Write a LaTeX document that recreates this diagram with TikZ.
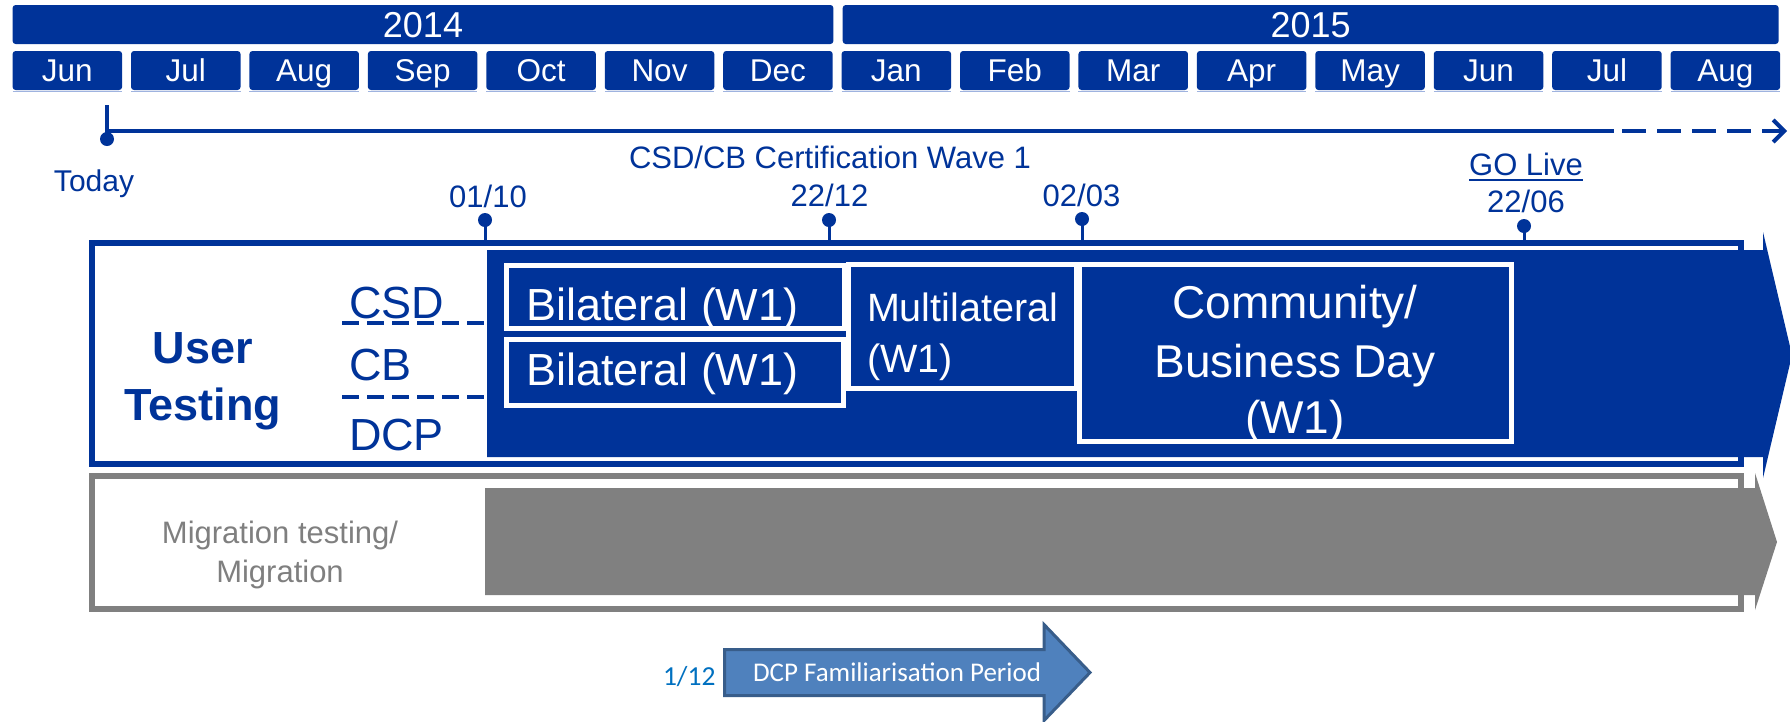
\documentclass[tikz,border=0pt]{standalone}
\usepackage{fontspec}
\setmainfont{Liberation Sans}
\newfontfamily\calfont{Carlito}
\usetikzlibrary{arrows.meta}
\definecolor{ubblue}{HTML}{003399}
\definecolor{ubgray}{HTML}{808080}
\definecolor{gtext}{HTML}{7F7F7F}
\definecolor{dcpfill}{HTML}{4F81BD}
\definecolor{dcpdraw}{HTML}{385D8A}
\definecolor{dcptext}{HTML}{0070C0}
\definecolor{lightline}{HTML}{9FB3DF}
\newcommand\sz[1]{\fontsize{#1pt}{#1pt}\selectfont}
\begin{document}
\begin{tikzpicture}[x=1pt,y=-1pt,
  every node/.style={inner sep=0pt, outer sep=0pt},
  yearbox/.style={fill=ubblue, rounded corners=3pt, text=white, anchor=north west, minimum height=39pt, font=\sz{36}, text height=25.8pt, text depth=0pt},
  monthbox/.style={fill=ubblue, rounded corners=3pt, text=white, anchor=north west, minimum width=109.5pt, minimum height=39pt, font=\sz{31.5}, text height=22.6pt, text depth=0pt},
  monthedge/.style={draw=lightline, line width=1.5pt},
  tl/.style={draw=ubblue, line width=4pt},
  dot/.style={circle, fill=ubblue, minimum size=14pt},
  tick/.style={draw=ubblue, line width=3pt},
  tltext/.style={text=ubblue, font=\sz{31}, anchor=base},
  frame/.style={anchor=north west, line width=6pt},
  wbox/.style={draw=white, fill=ubblue, line width=5pt, anchor=north west},
  btext/.style={text=white, anchor=base west},
  ctext/.style={text=white, font=\sz{46}, anchor=base},
  side/.style={text=ubblue, font=\sz{45}, anchor=base west},
  ut/.style={text=ubblue, font=\sz{45}\bfseries, anchor=base},
  dashline/.style={draw=ubblue, line width=4pt, dash pattern=on 17pt off 8pt},
  migtext/.style={text=gtext, font=\sz{31}, anchor=base},
  dcparrow/.style={fill=dcpfill, draw=dcpdraw, line width=3pt, line join=miter},
]
\useasboundingbox (0,0) rectangle (1790,721);

% ---------- header ----------
\node[yearbox, minimum width=820.8pt] (y2014) at (12.6,5) {2014};
\node[yearbox, minimum width=935.9pt] (y2015) at (842.7,5) {2015};
\foreach \m [count=\i from 0] in {Jun,Jul,Aug,Sep,Oct,Nov,Dec,Jan,Feb,Mar,Apr,May,Jun,Jul,Aug}{
  \node[monthbox] (m\i) at ({12.6+118.43*\i},51) {\m};
  \draw[monthedge] ([yshift=-1.5pt]m\i.south west) -- ([yshift=-1.5pt]m\i.south east);
}

% ---------- timeline ----------
\node[dot] (today) at (107,139) {};
\coordinate (todaytop) at (107,105);
\draw[tl] (todaytop) -- (today.center);
\coordinate (tlstart) at (107,131);
\coordinate (dashstart) at (1614,131);
\coordinate (dashfirst) at (1622,131);
\coordinate (tlend) at (1787,131);
\draw[tl] (tlstart) -- (dashstart);
\draw[tl, dash pattern=on 24pt off 11pt, -{Straight Barb[length=11pt,width=22pt,line width=4pt]}] (dashfirst) -- (tlend);
\node[tltext, font=\sz{30}] (todaylbl) at (94,191) {Today};
\node[tltext] (wave) at (830,168) {CSD/CB Certification Wave 1};

% ---------- frames and arrows ----------
\node[frame, draw=ubgray, minimum width=1649pt, minimum height=133pt] (migframe) at (92,475.5) {};
\fill[ubgray] (485,488) -- (1755,488) -- (1755,473) -- (1777,542) -- (1755,610) -- (1755,595) -- (485,595) -- cycle;
\node[frame, draw=ubblue, minimum width=1649pt, minimum height=221pt] (utframe) at (92,243) {};
\fill[ubblue] (487,250) -- (1763,250) -- (1763,232) -- (1792,355) -- (1763,478) -- (1763,457) -- (487,457) -- cycle;

% ---------- milestones ----------
\foreach \n/\x/\y/\t in {d1/485/220/01\slash 10, d2/829/220/22\slash 12, d3/1082/219/02\slash 03}{
  \node[dot] (\n) at (\x,\y) {};
  \coordinate (\n b) at (\x,242);
  \draw[tick] (\n.center) -- (\n b);
}
\node[tltext] (l1) at (488,207) {01/10};
\node[tltext] (l2) at (829.5,206) {22/12};
\node[tltext] (l3) at (1081.5,206) {02/03};
\node[dot] (d4) at (1524,226) {};
\coordinate (d4b) at (1524,242);
\draw[tick] (d4.center) -- (d4b);
\node[tltext] (golive) at (1526,175) {GO Live};
\draw[draw=ubblue, line width=2pt] ([yshift=-4.5pt]golive.base west) -- ([yshift=-4.5pt]golive.base east);
\node[tltext] (l4) at (1526,212) {22/06};

% ---------- inner boxes ----------
\node[wbox, minimum width=228pt, minimum height=124pt] (multi) at (848.5,264.5) {};
\node[wbox, minimum width=338pt, minimum height=63pt] (bil1) at (506.5,265.5) {};
\node[wbox, minimum width=337pt, minimum height=66pt] (bil2) at (506.5,339.5) {};
\node[wbox, minimum width=432pt, minimum height=177pt] (comm) at (1079.5,264.5) {};

\node[btext, font=\sz{45}] (bil1t) at (526,320) {Bilateral (W1)};
\node[btext, font=\sz{45}] (bil2t) at (526,385) {Bilateral (W1)};
\node[btext, font=\sz{39.5}] (multit1) at (867,321) {Multilateral};
\node[btext, font=\sz{39.5}] (multit2) at (867,372) {(W1)};
\node[ctext] (commt1) at (1295,318) {Community/};
\node[ctext] (commt2) at (1295,377) {Business Day};
\node[ctext] (commt3) at (1295,433) {(W1)};

% ---------- side labels ----------
\node[ut] (user) at (203,363) {User};
\node[ut] (testing) at (203,420) {Testing};
\node[side] (csd) at (349,318) {CSD};
\node[side] (cb) at (349,380) {CB};
\node[side] (dcp) at (349,450) {DCP};
\coordinate (csdL) at (342,323);
\coordinate (csdR) at (487,323);
\coordinate (cbL) at (342,397);
\coordinate (cbR) at (487,397);
\draw[dashline] (csdL) -- (csdR);
\draw[dashline] (cbL) -- (cbR);

\node[migtext] (mig1) at (280,543) {Migration testing/};
\node[migtext] (mig2) at (280,582) {Migration};

% ---------- DCP familiarisation ----------
\draw[dcparrow] (724.5,649.5) -- (1044,649.5) -- (1044,624.5) -- (1090,672.5) -- (1044,720.5) -- (1044,695.5) -- (724.5,695.5) -- cycle;
\node[anchor=base west, text=white, font=\calfont\sz{27}] (dcpt) at (753,681) {DCP Familiarisation Period};
\node[anchor=base west, text=dcptext, font=\calfont\sz{27.5}] (start) at (663,685) {1/12};
\end{tikzpicture}
\end{document}
